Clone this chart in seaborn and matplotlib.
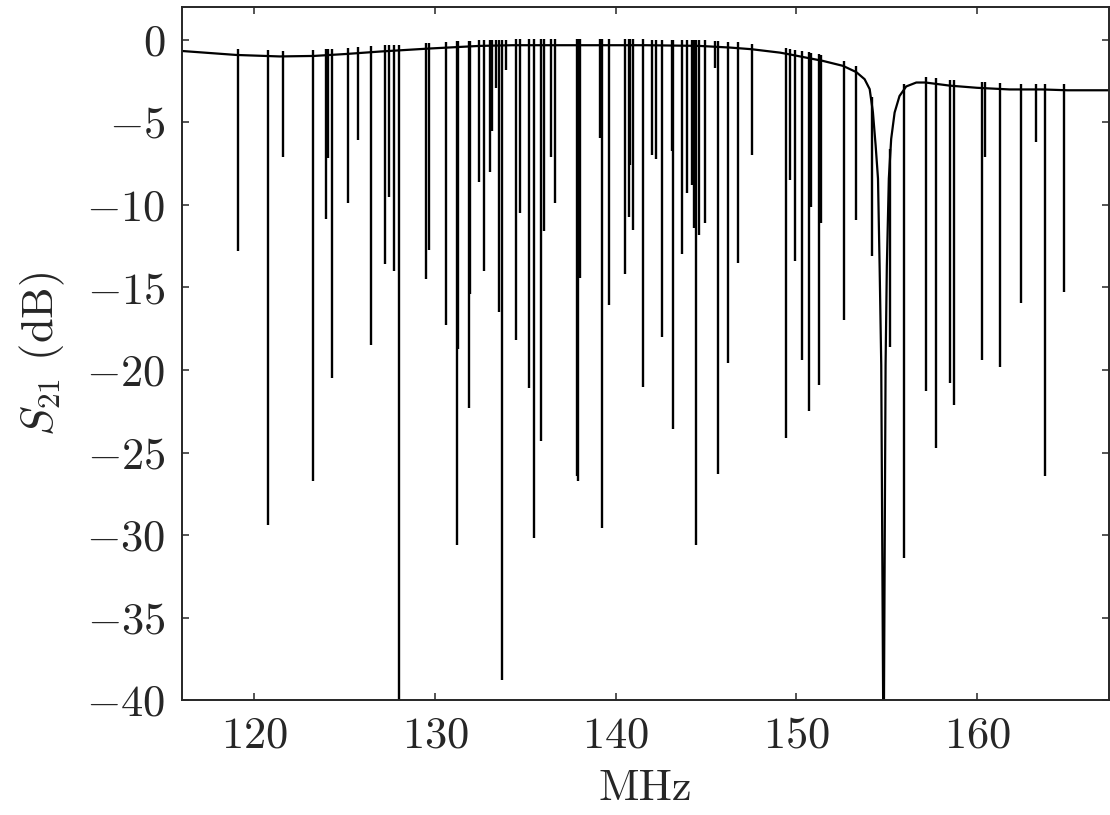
"""Transmission spectrum S21 with many narrow resonance dips."""

import matplotlib
matplotlib.use("Agg")
import matplotlib.pyplot as plt
import numpy as np
import seaborn as sns

# continuous trace (baseline plus the one broad resonance near 154.8 MHz)
base_mhz = [116.0, 119.0, 121.4, 123.3, 125.1, 127.0, 129.7, 132.5, 134.3, 138.0,
            141.7, 144.6, 146.3, 147.5, 149.1, 149.6, 151.47, 152.58, 153.32, 153.78,
            154.06, 154.24, 154.39, 154.52, 154.61, 154.70, 154.83, 154.94, 155.01, 155.12,
            155.25, 155.44, 155.71, 156.08, 156.64, 157.15, 158.5, 160.0, 161.8, 163.6,
            165.0, 167.3]
base_db = [-0.67, -0.91, -1.0, -0.97, -0.85, -0.7, -0.52, -0.36, -0.32, -0.32,
           -0.32, -0.36, -0.46, -0.56, -0.77, -0.87, -1.27, -1.57, -1.95, -2.38,
           -2.98, -4.39, -6.4, -8.4, -13.7, -19.7, -45.0, -19.7, -13.7, -8.4,
           -6.0, -4.4, -3.4, -2.82, -2.58, -2.58, -2.77, -2.9, -3.0, -3.0,
           -3.05, -3.05]

# narrow resonances: centre frequency (MHz) and depth (dB)
dip_mhz = [119.115, 120.758, 121.571, 123.263, 123.949, 124.060, 124.281, 125.166, 125.752, 126.438,
           127.246, 127.434, 127.710, 127.987, 129.513, 129.662, 130.619, 131.195, 131.250, 131.858,
           131.930, 132.428, 132.705, 133.036, 133.130, 133.368, 133.551, 133.717, 133.938, 134.474,
           134.696, 135.193, 135.487, 135.841, 136.023, 136.449, 136.648, 137.848, 137.904, 138.014,
           139.120, 139.231, 139.635, 140.542, 140.724, 140.818, 140.962, 141.499, 141.997, 142.218,
           142.566, 143.142, 143.175, 143.695, 143.932, 144.209, 144.336, 144.469, 144.596, 144.928,
           145.481, 145.664, 146.200, 146.753, 147.566, 149.447, 149.629, 149.906, 150.332, 150.697,
           150.830, 151.250, 151.361, 152.655, 153.319, 154.165, 155.199, 155.935, 157.190, 157.743,
           158.479, 158.700, 160.288, 160.454, 161.300, 162.423, 163.291, 163.750, 164.801]
dip_db = [-12.77, -29.4, -7.07, -26.7, -10.85, -7.17, -20.5, -9.9, -6.06, -18.5,
          -13.6, -9.5, -14.0, -45.0, -14.5, -12.7, -17.3, -30.6, -18.7, -22.3,
          -15.4, -8.6, -14.0, -8.0, -5.5, -2.9, -16.5, -38.8, -1.8, -18.2,
          -10.5, -21.1, -30.2, -24.3, -11.6, -7.07, -9.9, -26.4, -26.7, -14.4,
          -5.96, -29.6, -16.06, -14.2, -10.7, -7.6, -11.5, -21.05, -6.97, -7.2,
          -18.0, -6.7, -23.6, -13.0, -9.3, -8.8, -11.4, -30.6, -11.8, -11.1,
          -1.7, -26.3, -19.6, -13.5, -7.0, -24.1, -8.5, -13.4, -19.4, -22.5,
          -10.1, -20.9, -11.1, -17.0, -10.9, -13.1, -18.6, -31.4, -21.3, -24.7,
          -20.8, -22.1, -19.4, -7.1, -19.8, -15.96, -6.2, -26.4, -15.3]

x_ticks = [120, 130, 140, 150, 160]
y_ticks = [-40, -35, -30, -25, -20, -15, -10, -5, 0]

sns.set_theme(style="ticks")
plt.rcParams.update({
    "font.family": "serif",
    "font.serif": ["cmr10"],
    "mathtext.fontset": "cm",
    "axes.formatter.use_mathtext": True,
    "axes.linewidth": 1.4,
    "xtick.direction": "in",
    "ytick.direction": "in",
    "xtick.top": True,
    "ytick.right": True,
    "xtick.major.size": 5,
    "ytick.major.size": 5,
    "xtick.major.width": 1.1,
    "ytick.major.width": 1.1,
    "xtick.minor.visible": False,
    "ytick.minor.visible": False,
})

fig = plt.figure(figsize=(11.1, 8.15), dpi=100)
ax = fig.add_axes([0.164, 0.141, 0.835, 0.8505])

sns.lineplot(x=base_mhz, y=base_db, ax=ax, color="black", lw=1.6,
             sort=False, estimator=None)

# each narrow dip starts from the trace with a small Fano-like overshoot
dip_top = np.interp(dip_mhz, base_mhz, base_db) + 0.35
ax.vlines(dip_mhz, dip_db, dip_top, color="black", lw=1.7)

ax.set_xlim(116, 167.3)
ax.set_ylim(-40, 2)
ax.set_xticks(x_ticks)
ax.set_yticks(y_ticks)
ax.tick_params(labelsize=32, pad=12)
ax.set_xlabel("MHz", fontsize=32, labelpad=9)
ax.set_ylabel(r"$S_{21}$ (dB)", fontsize=32, labelpad=14)

fig.savefig("out.png", dpi=100, facecolor="white")
plt.close(fig)
